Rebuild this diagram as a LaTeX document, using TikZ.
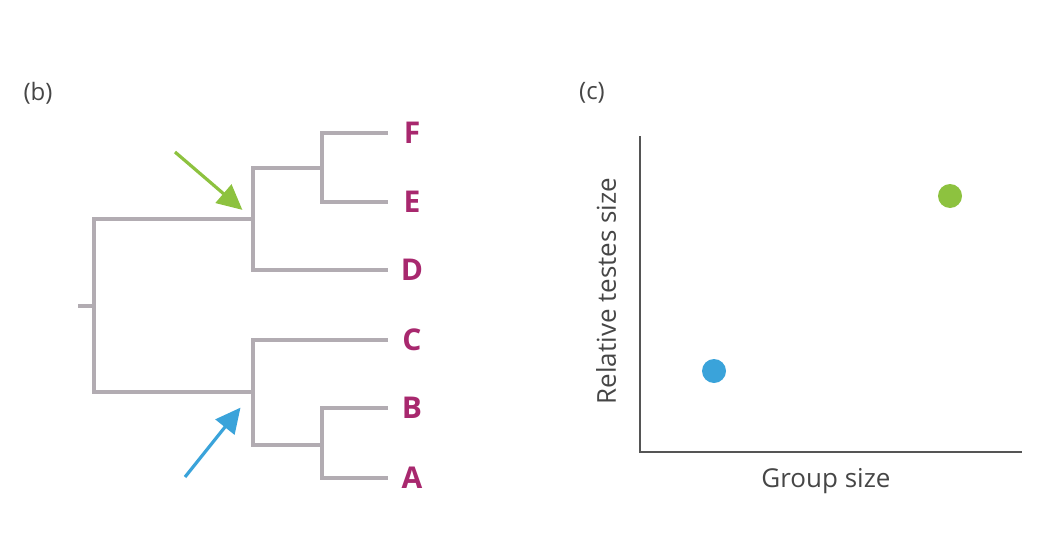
\documentclass[tikz,border=0pt]{standalone}
\usepackage{fontspec}
\setmainfont{Open Sans}
\usetikzlibrary{calc,arrows.meta}

\definecolor{treegray}{RGB}{178,172,178}
\definecolor{leafpink}{RGB}{168,40,110}
\definecolor{axisgray}{RGB}{85,85,85}
\definecolor{textgray}{RGB}{70,70,70}
\definecolor{pointgreen}{RGB}{141,194,63}
\definecolor{pointblue}{RGB}{58,163,218}

\begin{document}
\begin{tikzpicture}[x=1pt,y=-1pt,
  branch/.style={treegray, line width=4pt, line join=miter},
  leaf/.style={leafpink, font=\fontsize{30}{34}\selectfont\bfseries, inner sep=0pt},
  pointer/.style={line width=3.2pt, -{Triangle[length=25pt,width=24pt]}},
  axisline/.style={axisgray, line width=2pt},
  panel/.style={textgray, font=\fontsize{24}{28}\selectfont, inner sep=0pt},
  axislabel/.style={textgray, font=\fontsize{26}{30}\selectfont, inner sep=0pt}]

\useasboundingbox (0,0) rectangle (1042,554);

% panel (b): the tree
\node[panel] (labb) at (38,93) {(b)};

\def\tipx{388}
\foreach \name/\y in {F/133,E/202,D/270,C/340,B/408,A/478} {
  \coordinate (\name tip) at (\tipx,\y);
  \node[leaf] (\name) at (412,\y) {\name};
}

\coordinate (root) at (78,306);
\coordinate (R) at (94,306);
\coordinate (U) at (253,219);
\coordinate (L) at (253,392);
\coordinate (U2) at (322,168);
\coordinate (L2) at (322,445);

\draw[branch] (root) -- (R);
\draw[branch] (U) -| (R) |- (L);
\draw[branch] (U2) -| (U) |- (Dtip);
\draw[branch] (Ftip) -| (U2) |- (Etip);
\draw[branch] (Ctip) -| (L) |- (L2);
\draw[branch] (Btip) -| (L2) |- (Atip);

\coordinate (gstart) at (175,152);
\coordinate (bstart) at (185,477);
\draw[pointer, pointgreen, shorten >=14pt] (gstart) -- (U);
\draw[pointer, pointblue, shorten >=20pt] (bstart) -- (L);

% panel (c): the plot
\node[panel] (labc) at (592,93) {(c)};

\coordinate (O) at (640,452);
\coordinate (ytop) at (640,136);
\coordinate (xend) at (1022,452);
\draw[axisline] (ytop) -- (O) -- (xend);

\fill[pointgreen] (950,196) circle (12pt);
\fill[pointblue] (714,371) circle (12pt);

\node[axislabel] (xlab) at (826,481) {Group size};
\node[axislabel, rotate=90] (ylab) at (606,291) {Relative testes size};

\end{tikzpicture}
\end{document}
